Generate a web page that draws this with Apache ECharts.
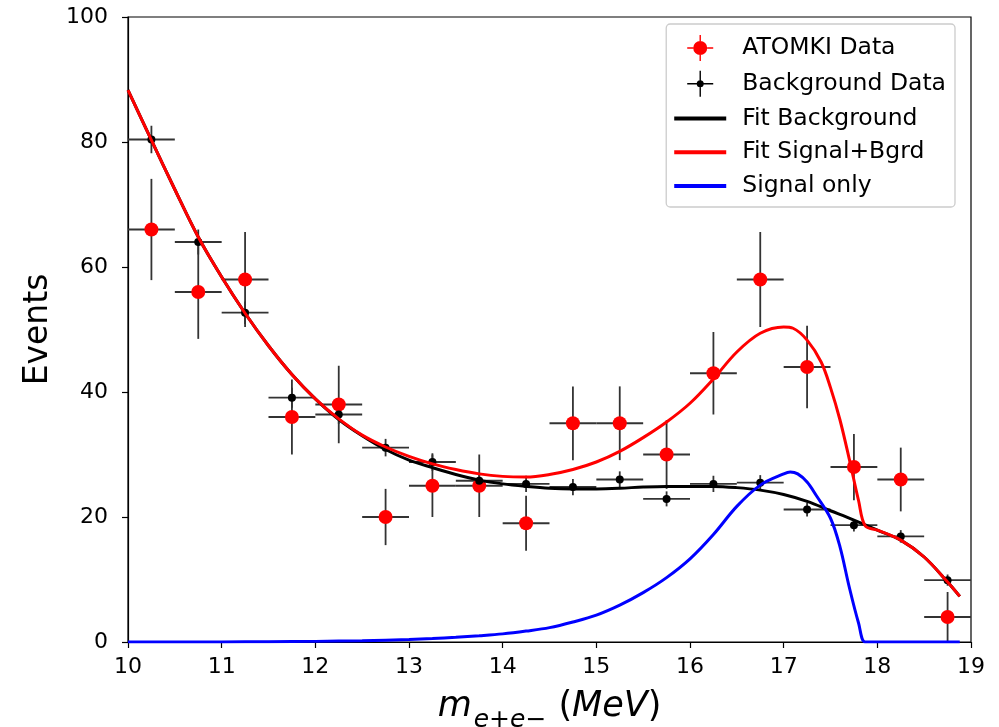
<!DOCTYPE html>
<html>
<head>
<meta charset="utf-8">
<script src="https://cdn.jsdelivr.net/npm/echarts@6/dist/echarts.min.js"></script>
<style>
  html, body { margin: 0; padding: 0; background: #fff; }
  #chart { width: 999px; height: 727px; }
</style>
</head>
<body>
<div id="chart"></div>
<script>
// bin centres (MeV), half bin width 0.25
var binCenters = [10.25, 10.75, 11.25, 11.75, 12.25, 12.75, 13.25, 13.75, 14.25,
                  14.75, 15.25, 15.75, 16.25, 16.75, 17.25, 17.75, 18.25, 18.75];
var binHalf = 0.25;

// ATOMKI data and its errors
var atomkiCounts = [66, 56, 58, 36, 38, 20, 25, 25, 19, 35, 35, 30, 43, 58, 44, 28, 26, 4];
var atomkiErrors = [8.1, 7.5, 7.6, 6.0, 6.2, 4.5, 5.0, 5.0, 4.4, 5.9, 5.9, 5.5, 6.6, 7.6, 6.6, 5.3, 5.1, 4.0];

// background data and its errors
var bgCounts = [80.4, 64.0, 52.7, 39.1, 36.4, 31.1, 28.8, 25.8, 25.3, 24.8, 26.0, 22.9, 25.3, 25.5, 21.2, 18.7, 16.9, 9.9];
var bgErrors = [2.2, 2.0, 1.8, 1.6, 1.5, 1.4, 1.4, 1.3, 1.3, 1.3, 1.3, 1.2, 1.3, 1.2, 1.1, 1.0, 1.0, 0.9];

// fit background curve
var fitBgX = [10, 10.25, 10.5, 10.75, 11, 11.25, 11.5, 11.75, 12, 12.25, 12.5, 12.75, 13, 13.25, 13.5, 13.75,
              14, 14.25, 14.5, 14.75, 15, 15.25, 15.5, 15.75, 16, 16.25, 16.5, 16.75, 17, 17.25, 17.5, 17.75,
              18, 18.25, 18.5, 18.75, 18.88];
var fitBgY = [88.3, 80.3, 72.4, 64.8, 58.4, 52.6, 47.4, 42.8, 38.9, 35.6, 33.0, 30.8, 29.1, 27.9, 26.8, 25.9,
              25.3, 24.9, 24.6, 24.5, 24.5, 24.6, 24.8, 24.9, 24.9, 24.9, 24.7, 24.3, 23.6, 22.5, 21.0, 19.5,
              17.9, 16.3, 13.6, 9.6, 7.3];

// fit signal + background curve
var fitSumX = [10, 10.25, 10.5, 10.75, 11, 11.25, 11.5, 11.75, 12, 12.25, 12.5, 12.75, 13, 13.25, 13.5, 13.75,
               14, 14.25, 14.5, 14.75, 15, 15.25, 15.5, 15.75, 16, 16.25, 16.5, 16.75, 17, 17.1, 17.25, 17.4,
               17.5, 17.6, 17.7, 17.8, 17.87, 18, 18.25, 18.5, 18.75, 18.88];
var fitSumY = [88.3, 80.3, 72.4, 64.8, 58.4, 52.6, 47.4, 42.8, 38.9, 35.7, 33.1, 31.2, 29.7, 28.5, 27.6, 26.9,
               26.5, 26.4, 26.8, 27.6, 28.8, 30.5, 32.7, 35.2, 38.2, 42.1, 46.4, 49.4, 50.4, 50.2, 48.3, 44.8,
               40.7, 35.6, 29.3, 22.6, 18.6, 17.9, 16.3, 13.6, 9.6, 7.3];

// signal only curve
var signalX = [10, 10.5, 11, 11.5, 12, 12.5, 13, 13.25, 13.5, 13.75, 14, 14.25, 14.5, 14.75, 15, 15.25,
               15.5, 15.75, 16, 16.25, 16.5, 16.75, 17, 17.07, 17.15, 17.25, 17.35, 17.5, 17.6, 17.7,
               17.8, 17.87, 18, 18.5, 18.88];
var signalY = [0, 0, 0.02, 0.05, 0.1, 0.2, 0.4, 0.55, 0.75, 1.0, 1.3, 1.75, 2.3, 3.2, 4.3, 5.9,
               7.9, 10.3, 13.3, 17.2, 21.7, 25.1, 26.9, 27.2, 26.9, 25.6, 23.4, 19.8, 15.3, 8.8,
               3.0, 0, 0, 0, 0];

var FONT = 'DejaVu Sans';

function zip(xs, ys) {
	var res = [];
	for (var i = 0; i < xs.length; i++) {
		res.push([xs[i], ys[i]]);
	}
	return res;
}

function withErrors(xs, ys, es) {
	var res = [];
	for (var i = 0; i < xs.length; i++) {
		res.push([xs[i], ys[i], es[i]]);
	}
	return res;
}

/**
 * error bars: horizontal half-bin, vertical +-err
 */
function renderErrorBar(params, api) {
	var x = api.value(0), y = api.value(1), e = api.value(2);
	var l = api.coord([x - binHalf, y]);
	var r = api.coord([x + binHalf, y]);
	var t = api.coord([x, y + e]);
	var b = api.coord([x, Math.max(0, y - e)]);
	var style = { stroke: '#333', lineWidth: 1.8 };
	return {
		type: 'group',
		children: [
			{ type: 'line', shape: { x1: l[0], y1: l[1], x2: r[0], y2: r[1] }, style: style },
			{ type: 'line', shape: { x1: t[0], y1: t[1], x2: b[0], y2: b[1] }, style: style }
		]
	};
}

// legend icons: dot with error-bar arms, and a plain thick line
var dotIconBig = 'path://M12.3,0 L13.7,0 L13.7,6 L12.3,6 Z M12.3,20 L13.7,20 L13.7,26 L12.3,26 Z ' +
	'M0,12.3 L6,12.3 L6,13.7 L0,13.7 Z M20,12.3 L26,12.3 L26,13.7 L20,13.7 Z ' +
	'M6,13 A7,7 0 1,1 20,13 A7,7 0 1,1 6,13 Z';
var dotIconSmall = 'path://M12.3,0 L13.7,0 L13.7,26 L12.3,26 Z M0,12.3 L12.3,12.3 L12.3,13.7 L0,13.7 Z ' +
	'M13.7,12.3 L26,12.3 L26,13.7 L13.7,13.7 Z M9.5,13 A3.5,3.5 0 1,1 16.5,13 A3.5,3.5 0 1,1 9.5,13 Z';
var lineIcon = 'path://M0,0 L52,0 L52,4 L0,4 Z';

function lineSeries(name, xs, ys, color) {
	return {
		name: name,
		type: 'line',
		symbol: 'none',
		showSymbol: false,
		smooth: 0.35,
		lineStyle: { color: color, width: 3 },
		itemStyle: { color: color },
		data: zip(xs, ys),
		z: 3
	};
}

var myChart = echarts.init(document.getElementById('chart'));

var option = {
	backgroundColor: '#fff',
	animation: false,
	grid: {
		left: 128, right: 28, top: 17, bottom: 85,
		containLabel: false,
		outerBoundsMode: 'none',
		show: true, borderColor: '#000', borderWidth: 1.2, backgroundColor: 'transparent'
	},
	legend: {
		orient: 'vertical',
		right: 44,
		top: 24,
		padding: [11, 9, 9, 8],
		itemGap: 9.75,
		itemWidth: 52,
		itemHeight: 26,
		borderColor: '#cccccc',
		borderWidth: 1.3,
		borderRadius: 4,
		backgroundColor: 'rgba(255,255,255,0.8)',
		textStyle: { fontFamily: FONT, fontSize: 23.5, color: '#000', padding: [0, 0, 0, 11] },
		data: [
			{ name: 'ATOMKI Data', icon: dotIconBig },
			{ name: 'Background Data', icon: dotIconSmall },
			{ name: 'Fit Background', icon: lineIcon },
			{ name: 'Fit Signal+Bgrd', icon: lineIcon },
			{ name: 'Signal only', icon: lineIcon }
		]
	},
	xAxis: {
		type: 'value',
		min: 10, max: 19, interval: 1,
		splitLine: { show: false },
		axisLine: { lineStyle: { color: '#000', width: 1.2 } },
		axisTick: { length: 6, lineStyle: { color: '#000', width: 1.2 } },
		axisLabel: { fontFamily: FONT, fontSize: 22, color: '#000', margin: 14 },
		name: '{m|m}{s|e+e−}{p|(}{m|MeV}{p|)}',
		nameLocation: 'middle',
		nameGap: 47,
		nameTextStyle: {
			rich: {
				m: { fontFamily: FONT, fontStyle: 'italic', fontSize: 35, color: '#000', verticalAlign: 'bottom', padding: [0, 0, 9, 0] },
				s: { fontFamily: FONT, fontStyle: 'italic', fontSize: 25, color: '#000', verticalAlign: 'bottom', padding: [0, 12, 0, 2] },
				p: { fontFamily: FONT, fontSize: 35, color: '#000', verticalAlign: 'bottom', padding: [0, 0, 9, 0] }
			}
		}
	},
	yAxis: {
		type: 'value',
		min: 0, max: 100, interval: 20,
		splitLine: { show: false },
		axisLine: { lineStyle: { color: '#000', width: 1.2 } },
		axisTick: { length: 6, lineStyle: { color: '#000', width: 1.2 } },
		axisLabel: { fontFamily: FONT, fontSize: 22, color: '#000', margin: 20 },
		name: 'Events',
		nameLocation: 'middle',
		nameGap: 67,
		nameTextStyle: { fontFamily: FONT, fontSize: 33, color: '#000' }
	},
	series: [
		{
			name: 'ATOMKI err',
			type: 'custom',
			renderItem: renderErrorBar,
			encode: { x: 0, y: 1 },
			data: withErrors(binCenters, atomkiCounts, atomkiErrors),
			z: 2
		},
		{
			name: 'ATOMKI Data',
			type: 'scatter',
			symbol: 'circle',
			symbolSize: 14,
			itemStyle: { color: '#ff0000', opacity: 1 },
			data: zip(binCenters, atomkiCounts),
			z: 2
		},
		{
			name: 'Background err',
			type: 'custom',
			renderItem: renderErrorBar,
			encode: { x: 0, y: 1 },
			data: withErrors(binCenters, bgCounts, bgErrors),
			z: 2
		},
		{
			name: 'Background Data',
			type: 'scatter',
			symbol: 'circle',
			symbolSize: 8,
			itemStyle: { color: '#000', opacity: 1 },
			data: zip(binCenters, bgCounts),
			z: 2
		},
		lineSeries('Fit Background', fitBgX, fitBgY, '#000'),
		lineSeries('Fit Signal+Bgrd', fitSumX, fitSumY, '#ff0000'),
		lineSeries('Signal only', signalX, signalY, '#0000ff')
	]
};

myChart.setOption(option);
</script>
</body>
</html>
